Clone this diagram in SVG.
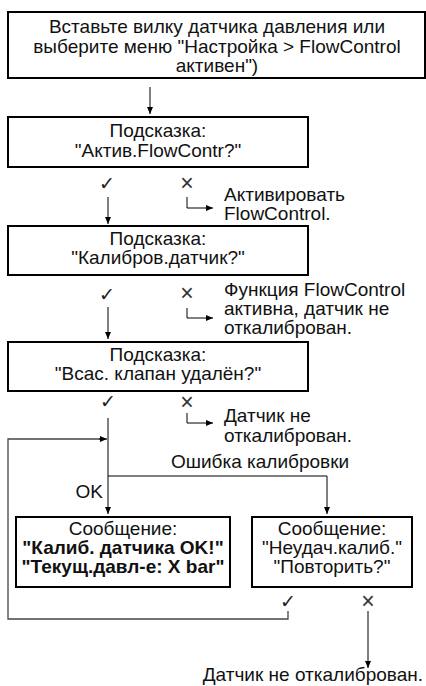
<svg xmlns="http://www.w3.org/2000/svg" width="426" height="686" viewBox="0 0 426 686">
<defs>
<marker id="ah" markerUnits="userSpaceOnUse" markerWidth="8" markerHeight="6" refX="7" refY="3" orient="auto">
<path d="M0,0 L7,3 L0,6 z" fill="#000"/>
</marker>
<style>
.box{fill:#fff;stroke:#000;stroke-width:2}
.t{font-family:"Liberation Sans",Arial,sans-serif;font-size:19px;fill:#111}
.c{text-anchor:middle}
.b{font-weight:bold}
.ln{fill:none;stroke:#000;stroke-width:1}
.fb{fill:none;stroke:#444;stroke-width:1.3}
.ck{font-family:"DejaVu Sans",sans-serif;font-size:19px;fill:#222;text-anchor:middle}
.x{font-family:"Liberation Sans",Arial,sans-serif;font-size:23px;fill:#333;text-anchor:middle}
</style>
</defs>
<rect width="426" height="686" fill="#fff"/>
<g id="connectors">
<path class="ln" d="M150 87 V114" marker-end="url(#ah)"/>
<path class="ln" d="M108 197 V224" marker-end="url(#ah)"/>
<path class="ln" d="M187 197 V208 H213" marker-end="url(#ah)"/>
<path class="ln" d="M108 307 V339" marker-end="url(#ah)"/>
<path class="ln" d="M187 308 V318 H213" marker-end="url(#ah)"/>
<path class="ln" d="M108 418 V514" marker-end="url(#ah)"/>
<path class="ln" d="M187 413 V423 H213" marker-end="url(#ah)"/>
<path class="ln" d="M108 476 H327 V514" marker-end="url(#ah)"/>
<path class="fb" d="M288 611 V619 H8 V439 H100"/>
<path class="ln" d="M99 439 H107" marker-end="url(#ah)"/>
<path class="ln" d="M368 611 V668" marker-end="url(#ah)"/>
</g>
<g id="n_start">
<rect class="box" x="8" y="12" width="417" height="66"/>
<text class="t c" x="217" y="33">Вставьте вилку датчика давления или</text>
<text class="t c" x="217" y="53">выберите меню "Настройка &gt; FlowControl</text>
<text class="t c" x="217" y="72">активен")</text>
</g>
<g id="n_prompt1">
<rect class="box" x="8" y="117" width="300" height="50"/>
<text class="t c" x="158" y="137">Подсказка:</text>
<text class="t c" x="158" y="157">"Актив.FlowContr?"</text>
</g>
<g id="d1">
<text class="ck" x="107" y="190">✓</text>
<text class="x" x="187" y="191">×</text>
</g>
<g id="n_act">
<text class="t" x="224" y="201">Активировать</text>
<text class="t" x="224" y="220">FlowControl.</text>
</g>
<g id="n_prompt2">
<rect class="box" x="8" y="226" width="300" height="49"/>
<text class="t c" x="158" y="245">Подсказка:</text>
<text class="t c" x="158" y="264">"Калибров.датчик?"</text>
</g>
<g id="d2">
<text class="ck" x="107" y="301">✓</text>
<text class="x" x="187" y="301">×</text>
</g>
<g id="n_fc">
<text class="t" x="224" y="296">Функция FlowControl</text>
<text class="t" x="224" y="315">активна, датчик не</text>
<text class="t" x="224" y="334">откалиброван.</text>
</g>
<g id="n_prompt3">
<rect class="box" x="8" y="342" width="300" height="49"/>
<text class="t c" x="158" y="361">Подсказка:</text>
<text class="t c" x="158" y="380">"Всас. клапан удалён?"</text>
</g>
<g id="d3">
<text class="ck" x="108" y="408">✓</text>
<text class="x" x="187" y="410">×</text>
</g>
<g id="n_nc1">
<text class="t" x="224" y="422">Датчик не</text>
<text class="t" x="224" y="442">откалиброван.</text>
</g>
<g id="labels">
<text class="t c" x="260" y="468">Ошибка калибровки</text>
<text class="t" x="103" y="498" text-anchor="end">OK</text>
</g>
<g id="n_ok">
<rect class="box" x="16" y="517" width="214" height="70"/>
<text class="t c" x="123" y="535">Сообщение:</text>
<text class="t c b" x="123" y="554">"Калиб. датчика OK!"</text>
<text class="t c b" x="123" y="573">"Текущ.давл-е: X bar"</text>
</g>
<g id="n_fail">
<rect class="box" x="252" y="517" width="160" height="70"/>
<text class="t c" x="332" y="535">Сообщение:</text>
<text class="t c" x="332" y="554">"Неудач.калиб."</text>
<text class="t c" x="332" y="573">"Повторить?"</text>
</g>
<g id="d4">
<text class="ck" x="288" y="608">✓</text>
<text class="x" x="368" y="609">×</text>
</g>
<g id="n_end">
<text class="t" x="423" y="681" text-anchor="end">Датчик не откалиброван.</text>
</g>
</svg>
